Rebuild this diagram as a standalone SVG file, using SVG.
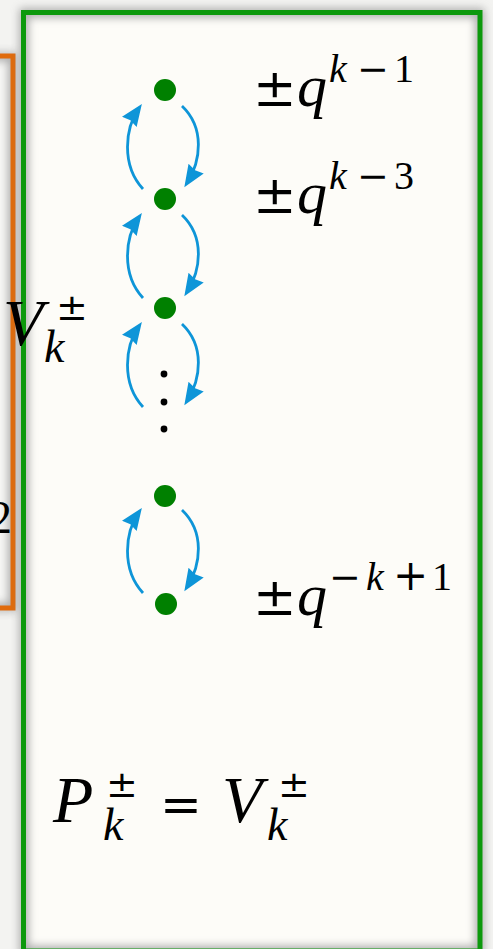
<svg xmlns="http://www.w3.org/2000/svg" width="493" height="949" viewBox="0 0 493 949">
<defs>
<style>
.lbl{font-family:"Liberation Serif","Times New Roman",serif;fill:#000}
.it{font-family:"Liberation Serif","Times New Roman",serif;font-style:italic}
.sym{font-family:"DejaVu Serif",serif;font-style:normal}
.arc{fill:none;stroke:#0e95d8;stroke-width:2.8;marker-end:url(#ah)}
.dot{fill:#008000}
.vdot{fill:#000}
</style>
<marker id="ah" markerUnits="userSpaceOnUse" markerWidth="26" markerHeight="20" refX="17" refY="9" orient="auto"><path d="M0,0 L22,9 L0,18 L2,9 z" fill="#0e95d8"/></marker>
<filter id="blur" x="-20%" y="-20%" width="140%" height="140%"><feGaussianBlur stdDeviation="4"/></filter>
<clipPath id="gclip"><rect x="23.5" y="12.5" width="456.5" height="938.5"/></clipPath>
<clipPath id="oclip"><rect x="-30" y="56" width="43" height="552"/></clipPath>
</defs>
<rect width="493" height="949" fill="#f3f3f1"/>
<g id="orange-box">
<rect x="-30" y="56" width="43" height="552" fill="none" stroke="#888" stroke-width="7" opacity="0.6" filter="url(#blur)"/>
<rect x="-30" y="56" width="43" height="552" fill="#f7f7f5"/>
<rect x="-30" y="56" width="43" height="552" fill="none" stroke="#aaa" stroke-width="10" filter="url(#blur)" clip-path="url(#oclip)"/>
<rect x="-30" y="56" width="43" height="552" fill="none" stroke="#e06b0c" stroke-width="5"/>
<text class="lbl" x="-11" y="533" font-size="46">2</text>
</g>
<g id="green-box">
<rect x="23.5" y="12.5" width="456.5" height="938.5" fill="none" stroke="#777" stroke-width="8" opacity="0.6" filter="url(#blur)"/>
<rect x="23.5" y="12.5" width="456.5" height="938.5" fill="#fdfcf8"/>
<rect x="23.5" y="12.5" width="456.5" height="938.5" fill="none" stroke="#aaa" stroke-width="10" filter="url(#blur)" clip-path="url(#gclip)"/>
<rect x="23.5" y="12.5" width="456.5" height="938.5" fill="none" stroke="#0d990d" stroke-width="5"/>
</g>
<g id="connectors">
<path class="arc" d="M143,189 C121,165 125,128 139,108"/>
<path class="arc" d="M182,106 C205,128 201,161 187,183"/>
<path class="arc" d="M143,298 C121,274 125,237 139,217"/>
<path class="arc" d="M182,215 C205,237 201,270 187,292"/>
<path class="arc" d="M143,407 C121,383 125,346 139,326"/>
<path class="arc" d="M182,324 C205,346 201,379 187,401"/>
<path class="arc" d="M143,593 C121,569 125,532 139,512"/>
<path class="arc" d="M182,510 C205,532 201,565 187,587"/>
</g>
<g id="n1"><circle class="dot" cx="165" cy="90" r="11"/></g>
<g id="n2"><circle class="dot" cx="165" cy="199" r="11"/></g>
<g id="n3"><circle class="dot" cx="165" cy="308" r="11"/></g>
<g id="vdots"><circle class="vdot" cx="164" cy="374" r="3.4"/><circle class="vdot" cx="164" cy="402" r="3.4"/><circle class="vdot" cx="164" cy="429" r="3.4"/></g>
<g id="n4"><circle class="dot" cx="165" cy="496" r="11"/></g>
<g id="n5"><circle class="dot" cx="166" cy="604" r="11"/></g>
<g id="label-q1">
<text class="lbl" y="106"><tspan class="sym" x="253" font-size="52">±</tspan><tspan class="it" x="297" font-size="60">q</tspan><tspan class="it" x="329" y="82" font-size="40">k</tspan><tspan class="sym" x="357" font-size="38">−</tspan><tspan x="394" font-size="40">1</tspan></text>
</g>
<g id="label-q3">
<text class="lbl" y="213"><tspan class="sym" x="253" font-size="52">±</tspan><tspan class="it" x="297" font-size="60">q</tspan><tspan class="it" x="329" y="189" font-size="40">k</tspan><tspan class="sym" x="357" font-size="38">−</tspan><tspan x="394" font-size="40">3</tspan></text>
</g>
<g id="label-qneg">
<text class="lbl" y="615"><tspan class="sym" x="253" font-size="52">±</tspan><tspan class="it" x="297" font-size="60">q</tspan><tspan class="sym" x="329" y="590" font-size="38">−</tspan><tspan class="it" x="366" font-size="40">k</tspan><tspan class="sym" x="393" font-size="42">+</tspan><tspan x="432" font-size="40">1</tspan></text>
</g>
<g id="label-P">
<text class="lbl" y="822"><tspan class="it" x="53" font-size="66">P</tspan><tspan class="sym" x="106" y="797" font-size="38">±</tspan><tspan class="it" x="103" y="840" font-size="46">k</tspan><tspan class="sym" x="160" y="822" font-size="50">=</tspan><tspan class="it" x="222" font-size="66">V</tspan><tspan class="sym" x="278" y="797" font-size="38">±</tspan><tspan class="it" x="267" y="840" font-size="46">k</tspan></text>
</g>
<g id="label-V">
<text class="lbl" y="345"><tspan class="it" x="3" font-size="66">V</tspan><tspan class="sym" x="56" y="320" font-size="38">±</tspan><tspan class="it" x="44" y="362" font-size="46">k</tspan></text>
</g>
</svg>
